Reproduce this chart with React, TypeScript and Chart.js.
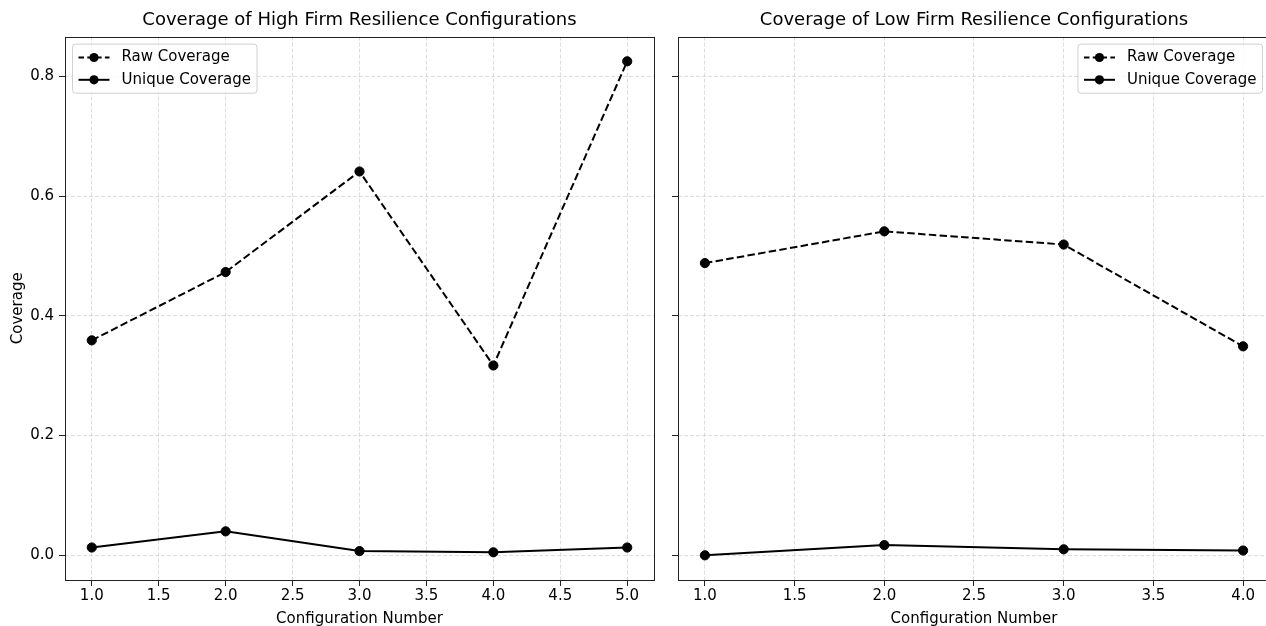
import React, { useEffect, useRef } from "react";
import { Chart, registerables } from "chart.js";

Chart.register(...registerables);

// ---- Data ----
const highConfigs = [1, 2, 3, 4, 5];
const highRaw = [0.359, 0.473, 0.641, 0.317, 0.825];
const highUnique = [0.013, 0.04, 0.007, 0.005, 0.013];

const lowConfigs = [1, 2, 3, 4];
const lowRaw = [0.488, 0.541, 0.519, 0.349];
const lowUnique = [0.0, 0.017, 0.01, 0.008];

const highXTicks = [1.0, 1.5, 2.0, 2.5, 3.0, 3.5, 4.0, 4.5, 5.0];
const lowXTicks = [1.0, 1.5, 2.0, 2.5, 3.0, 3.5, 4.0];
const yTicks = [0.0, 0.2, 0.4, 0.6, 0.8];

const titles = [
  "Coverage of High Firm Resilience Configurations",
  "Coverage of Low Firm Resilience Configurations",
];
const seriesLabels = ["Raw Coverage", "Unique Coverage"];
const xTitle = "Configuration Number";
const yTitle = "Coverage";

const FONT = '"DejaVu Sans", "Liberation Sans", sans-serif';
const FS = 15;
const TITLE_FS = 18;

const framePlugin = {
  id: "mplFrame",
  afterDraw(chart: any) {
    const { ctx, chartArea } = chart;
    ctx.save();
    ctx.strokeStyle = "#222";
    ctx.lineWidth = 1;
    ctx.setLineDash([]);
    ctx.strokeRect(
      Math.round(chartArea.left) + 0.5,
      Math.round(chartArea.top) + 0.5,
      Math.round(chartArea.right - chartArea.left),
      Math.round(chartArea.bottom - chartArea.top)
    );
    ctx.restore();
  },
};

const legendPlugin = {
  id: "mplLegend",
  afterDraw(chart: any, _args: any, opts: any) {
    const { ctx, chartArea } = chart;
    const items = chart.data.datasets;
    ctx.save();
    ctx.font = `${FS}px ${FONT}`;
    const textW = Math.max(...items.map((d: any) => ctx.measureText(d.label).width));
    const pad = 6,
      hl = 31,
      htp = 12,
      ls = 7.5,
      axpad = 7.5;
    const rowH = 14.8;
    const w = pad + hl + htp + textW + pad;
    const h = pad * 2 + rowH * items.length + ls * (items.length - 1);
    const x = opts.align === "right" ? chartArea.right - axpad - w : chartArea.left + axpad;
    const y = chartArea.top + axpad;
    const r = 3;
    ctx.beginPath();
    ctx.moveTo(x + r, y);
    ctx.lineTo(x + w - r, y);
    ctx.quadraticCurveTo(x + w, y, x + w, y + r);
    ctx.lineTo(x + w, y + h - r);
    ctx.quadraticCurveTo(x + w, y + h, x + w - r, y + h);
    ctx.lineTo(x + r, y + h);
    ctx.quadraticCurveTo(x, y + h, x, y + h - r);
    ctx.lineTo(x, y + r);
    ctx.quadraticCurveTo(x, y, x + r, y);
    ctx.closePath();
    ctx.fillStyle = "rgba(255,255,255,0.8)";
    ctx.fill();
    ctx.strokeStyle = "#d0d0d0";
    ctx.lineWidth = 1;
    ctx.stroke();
    items.forEach((d: any, i: number) => {
      const cy = y + pad + rowH * i + ls * i + rowH / 2;
      const hx0 = x + pad,
        hx1 = hx0 + hl;
      ctx.strokeStyle = d.borderColor;
      ctx.lineWidth = d.borderWidth;
      ctx.setLineDash(d.borderDash && d.borderDash.length ? [5.5, 3.3] : []);
      ctx.beginPath();
      ctx.moveTo(hx0, cy);
      ctx.lineTo(hx1, cy);
      ctx.stroke();
      ctx.setLineDash([]);
      ctx.beginPath();
      ctx.arc((hx0 + hx1) / 2, cy, d.pointRadius, 0, Math.PI * 2);
      ctx.fillStyle = d.pointBackgroundColor;
      ctx.fill();
      ctx.fillStyle = "#000";
      ctx.textBaseline = "middle";
      ctx.textAlign = "left";
      ctx.fillText(d.label, hx1 + htp, cy);
    });
    ctx.restore();
  },
};

function makeDatasets(xs: number[], raw: number[], uniq: number[]) {
  const common = {
    borderColor: "#000",
    backgroundColor: "#000",
    pointBackgroundColor: "#000",
    pointBorderColor: "#000",
    pointRadius: 4.6,
    pointBorderWidth: 1,
    borderWidth: 2,
    tension: 0,
  };
  return [
    {
      ...common,
      label: seriesLabels[0],
      data: xs.map((x, i) => ({ x, y: raw[i] })),
      borderDash: [7.5, 3.3],
    },
    {
      ...common,
      label: seriesLabels[1],
      data: xs.map((x, i) => ({ x, y: uniq[i] })),
      borderDash: [],
    },
  ];
}

type PanelProps = {
  title: string;
  xs: number[];
  raw: number[];
  uniq: number[];
  xTicks: number[];
  xMin: number;
  xMax: number;
  showYLabels: boolean;
  yAxisWidth: number;
  padRight: number;
  legendAlign: "left" | "right";
  width: number;
  left: number;
};

const yMin = -0.04125;
const yMax = 0.86625;

function Panel(p: PanelProps) {
  const ref = useRef<HTMLCanvasElement | null>(null);
  useEffect(() => {
    if (!ref.current) return;
    const gridColor = "rgba(176,176,176,0.55)";
    const chart = new Chart(ref.current, {
      type: "line",
      data: { datasets: makeDatasets(p.xs, p.raw, p.uniq) as any },
      options: {
        responsive: false,
        animation: false,
        layout: { padding: { left: 0, right: p.padRight, top: 0, bottom: 0 } },
        plugins: {
          legend: { display: false },
          tooltip: { enabled: false },
          title: {
            display: true,
            text: p.title,
            fullSize: false,
            color: "#000",
            font: { family: FONT, size: TITLE_FS, weight: "normal" as any },
            padding: { top: 10, bottom: 5 },
          },
          mplLegend: { align: p.legendAlign },
        } as any,
        scales: {
          x: {
            type: "linear",
            min: p.xMin,
            max: p.xMax,
            afterBuildTicks: (s: any) => {
              s.ticks = p.xTicks.map((v) => ({ value: v }));
            },
            afterFit: (s: any) => {
              s.height = 46;
            },
            ticks: {
              color: "#000",
              font: { family: FONT, size: FS },
              padding: 1,
              maxRotation: 0,
              autoSkip: false,
              callback: (v: any) => Number(v).toFixed(1),
            },
            grid: {
              color: gridColor,
              lineWidth: 0.8,
              tickColor: "#222",
              tickLength: 6,
              tickWidth: 1,
            },
            border: { display: false, dash: [4, 2] },
            title: {
              display: true,
              text: xTitle,
              color: "#000",
              font: { family: FONT, size: FS },
              padding: { top: 0, bottom: -2 },
            },
          },
          y: {
            type: "linear",
            min: yMin,
            max: yMax,
            afterBuildTicks: (s: any) => {
              s.ticks = yTicks.map((v) => ({ value: v }));
            },
            afterFit: (s: any) => {
              s.width = p.yAxisWidth;
            },
            ticks: {
              color: "#000",
              font: { family: FONT, size: FS },
              padding: 5,
              autoSkip: false,
              callback: (v: any) => (p.showYLabels ? Number(v).toFixed(1) : ""),
            },
            grid: {
              color: gridColor,
              lineWidth: 0.8,
              tickColor: "#222",
              tickLength: 6,
              tickWidth: 1,
            },
            border: { display: false, dash: [4, 2] },
            title: {
              display: p.showYLabels,
              text: yTitle,
              color: "#000",
              font: { family: FONT, size: FS },
              padding: { top: 9, bottom: 0 },
            },
          },
        },
      },
      plugins: [framePlugin, legendPlugin],
    });
    return () => chart.destroy();
  }, []);
  return (
    <canvas
      ref={ref}
      width={p.width}
      height={626}
      style={{ position: "absolute", left: p.left, top: 0, display: "block" }}
    />
  );
}

export default function App() {
  return (
    <div
      style={{
        position: "absolute",
        left: 0,
        top: 0,
        width: 1266,
        height: 626,
        overflow: "hidden",
        background: "#fff",
      }}
    >
      <Panel
        title={titles[0]}
        xs={highConfigs}
        raw={highRaw}
        uniq={highUnique}
        xTicks={highXTicks}
        xMin={0.8}
        xMax={5.2}
        showYLabels={true}
        yAxisWidth={65}
        padRight={6}
        legendAlign="left"
        width={660}
        left={0}
      />
      <Panel
        title={titles[1]}
        xs={lowConfigs}
        raw={lowRaw}
        uniq={lowUnique}
        xTicks={lowXTicks}
        xMin={0.85}
        xMax={4.15}
        showYLabels={false}
        yAxisWidth={18}
        padRight={10}
        legendAlign="right"
        width={620}
        left={660}
      />
    </div>
  );
}
